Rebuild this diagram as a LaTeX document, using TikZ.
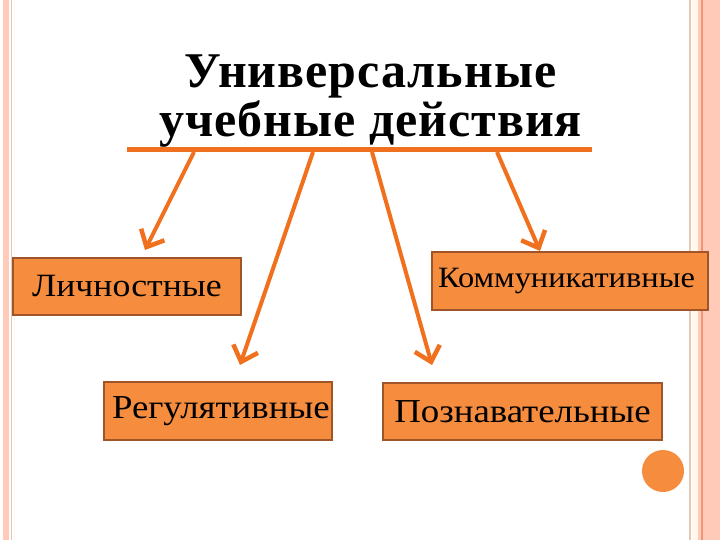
\documentclass[tikz,border=0pt]{standalone}
\usepackage{fontspec}
\setmainfont{Liberation Serif}
\newfontfamily\boxfont[FakeStretch=1.1]{Liberation Serif}
\usetikzlibrary{arrows.meta}
\definecolor{barorange}{RGB}{240,112,30}
\definecolor{boxfill}{RGB}{246,140,62}
\definecolor{boxline}{RGB}{160,85,40}
\definecolor{stripe}{RGB}{255,203,184}
\definecolor{stripedark}{RGB}{240,150,120}
\definecolor{stripethin}{RGB}{225,200,185}
\definecolor{cream}{RGB}{255,248,235}
\tikzset{
  box/.style={draw=boxline, line width=1.5pt, fill=boxfill, inner sep=0pt, font=\boxfont\fontsize{33.5}{36}\selectfont},
  conn/.style={draw=barorange, line width=4pt, -{Straight Barb[length=14pt,width=26pt,line width=4.5pt]}},
  titlefont/.style={font=\bfseries\addfontfeatures{LetterSpace=2}\fontsize{50}{54}\selectfont},
}
\begin{document}
\begin{tikzpicture}[x=1pt,y=-1pt]
\useasboundingbox (0,0) rectangle (720,540);
\fill[white] (0,0) rectangle (720,540);
% borders
\fill[stripe] (3,0) rectangle (9,540);
\draw[stripethin, line width=1pt] (11.5,0) -- (11.5,540);
\draw[cream, line width=1pt] (14.5,0) -- (14.5,540);
\draw[stripethin, line width=2pt] (690,0) -- (690,540);
\fill[cream] (692,0) rectangle (698,540);
\fill[stripe] (698,0) rectangle (720,540);
\draw[stripedark, line width=1.2pt] (702,0) -- (702,540);
% title
\node[titlefont, anchor=base] (t1) at (370.5,88) {Универсальные};
\node[titlefont, anchor=base] (t2) at (370.5,137) {учебные действия};
% bar
\coordinate (bl) at (127,150);
\coordinate (br) at (592,150);
\draw[barorange, line width=5pt] (bl) -- (br);
% boxes
\node[box, minimum width=228pt, minimum height=57pt, font=\boxfont\fontsize{32.5}{35}\selectfont] (lich) at (127,286.5) {Личностные};
\node[box, minimum width=276pt, minimum height=58pt, font=\boxfont\fontsize{29.5}{32}\selectfont, text width=276pt, align=left] (komm) at (570,281) {\hspace*{6pt}Коммуникативные};
\node[box, minimum width=228pt, minimum height=58pt, text width=228pt, align=left] (reg) at (218,411) {\hspace*{8pt}Регулятивные};
\node[box, minimum width=279pt, minimum height=57pt] (pozn) at (522.5,411.5) {Познавательные};
% arrows
\coordinate (s1) at (194,152);
\coordinate (e1) at (145,250);
\coordinate (s2) at (313,152);
\coordinate (e2) at (240,365);
\coordinate (s3) at (372,152);
\coordinate (e3) at (432,365);
\coordinate (s4) at (497,152);
\coordinate (e4) at (540,251);
\draw[conn] (s1) -- (e1);
\draw[conn] (s2) -- (e2);
\draw[conn] (s3) -- (e3);
\draw[conn] (s4) -- (e4);
% circle
\fill[boxfill] (663,471) circle (21);
\end{tikzpicture}
\end{document}
